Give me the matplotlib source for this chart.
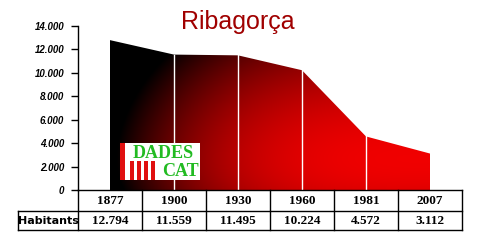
import numpy as np
import matplotlib
matplotlib.use("Agg")
import matplotlib.pyplot as plt
from matplotlib.patches import Polygon, Rectangle
from matplotlib.transforms import blended_transform_factory

years = ["1877", "1900", "1930", "1960", "1981", "2007"]
habitants = [12794, 11559, 11495, 10224, 4572, 3112]
hab_labels = ["12.794", "11.559", "11.495", "10.224", "4.572", "3.112"]
yticks = [0, 2000, 4000, 6000, 8000, 10000, 12000, 14000]
ytick_labels = ["0", "2.000", "4.000", "6.000", "8.000", "10.000", "12.000", "14.000"]
title = "Ribagorça"
row_label = "Habitants"

W, H = 480, 240
fig = plt.figure(figsize=(4.8, 2.4), dpi=100)
fig.patch.set_facecolor("white")

def fx(px):
    return px / W

def fy(py):
    return 1 - py / H

ax = fig.add_axes([fx(78), fy(190), fx(462) - fx(78), (190 - 26) / H])
n = len(years)
x = np.arange(n)
ax.set_xlim(-0.5, n - 0.5)
ax.set_ylim(0, 14000)

# gradient fill clipped to the area polygon
nx, ny = 400, 200
tx = np.linspace(0, 1, nx)
sy = np.linspace(0, 1, ny)
T, S = np.meshgrid(tx, sy)
base = 1 - (1 - T) ** 3
inten = np.clip(base - 0.66 * S ** 2 - 0.12 * (1 - S) ** 6, 0, 1)
img = np.zeros((ny, nx, 3))
img[..., 0] = inten
im = ax.imshow(img, extent=(x[0], x[-1], 0, 14000), origin="lower",
               aspect="auto", interpolation="bilinear", zorder=1)
verts = [(x[0], 0)] + list(zip(x, habitants)) + [(x[-1], 0)]
poly = Polygon(verts, closed=True, facecolor="none", edgecolor="none")
ax.add_patch(poly)
im.set_clip_path(poly)

# white separators at interior points
for xi, v in zip(x[1:-1], habitants[1:-1]):
    ax.plot([xi, xi], [0, v], color="white", lw=1.0, zorder=2)

for s in ["top", "right"]:
    ax.spines[s].set_visible(False)
ax.spines["left"].set_linewidth(1.0)
ax.spines["bottom"].set_linewidth(1.0)
ax.set_xticks([])
ax.set_yticks(yticks)
ax.set_yticklabels(ytick_labels, fontsize=7, fontweight="bold", fontstyle="italic",
                   family="Liberation Sans")
ax.tick_params(axis="y", length=5, width=1, pad=5)
ax.set_facecolor("none")

# table
tr = blended_transform_factory(ax.transData, fig.transFigure)
row1_top, row1_bot, row2_bot = fy(190), fy(211), fy(230)
left_lab = -0.5 - 60 / 64
lw = 1.0
ax.plot([left_lab, n - 0.5], [row1_bot, row1_bot], transform=tr, color="black", lw=lw, clip_on=False)
ax.plot([left_lab, n - 0.5], [row2_bot, row2_bot], transform=tr, color="black", lw=lw, clip_on=False)
for b in np.arange(n + 1) - 0.5:
    ax.plot([b, b], [row1_top, row2_bot], transform=tr, color="black", lw=lw, clip_on=False)
ax.plot([left_lab, left_lab], [row1_bot, row2_bot], transform=tr, color="black", lw=lw, clip_on=False)

tfont = dict(fontsize=9.5, fontweight="bold", family="Liberation Serif", ha="center", va="center")
for xi, yr, lab in zip(x, years, hab_labels):
    ax.text(xi, (row1_top + row1_bot) / 2, yr, transform=tr, **tfont)
    ax.text(xi, (row1_bot + row2_bot) / 2, lab, transform=tr, **tfont)
ax.text((left_lab - 0.5) / 2, (row1_bot + row2_bot) / 2, row_label, transform=tr,
        fontsize=8, fontweight="bold", family="DejaVu Sans", ha="center", va="center")

# title
fig.text(fx(238), fy(29), title, fontsize=18, color="#a00000", family="Liberation Sans",
         ha="center", va="baseline")

# DADES CAT logo
fig.patches.append(Rectangle((fx(120), fy(180)), fx(80), 37 / H, transform=fig.transFigure,
                             facecolor="white", edgecolor="none", zorder=5))
fig.patches.append(Rectangle((fx(120), fy(180)), fx(5), 37 / H, transform=fig.transFigure,
                             facecolor="#e01010", edgecolor="none", zorder=6))
for bx in [130, 137, 144, 151]:
    fig.patches.append(Rectangle((fx(bx), fy(180)), fx(4), 19 / H, transform=fig.transFigure,
                                 facecolor="#e01010", edgecolor="none", zorder=6))
fig.text(fx(163), fy(153), "DADES", fontsize=13, fontweight="bold", family="Liberation Serif",
         color="#22bb22", ha="center", va="center", zorder=7)
fig.text(fx(180), fy(171), "CAT", fontsize=13, fontweight="bold", family="Liberation Serif",
         color="#22bb22", ha="center", va="center", zorder=7)

fig.savefig("out.png", dpi=100, facecolor="white")
